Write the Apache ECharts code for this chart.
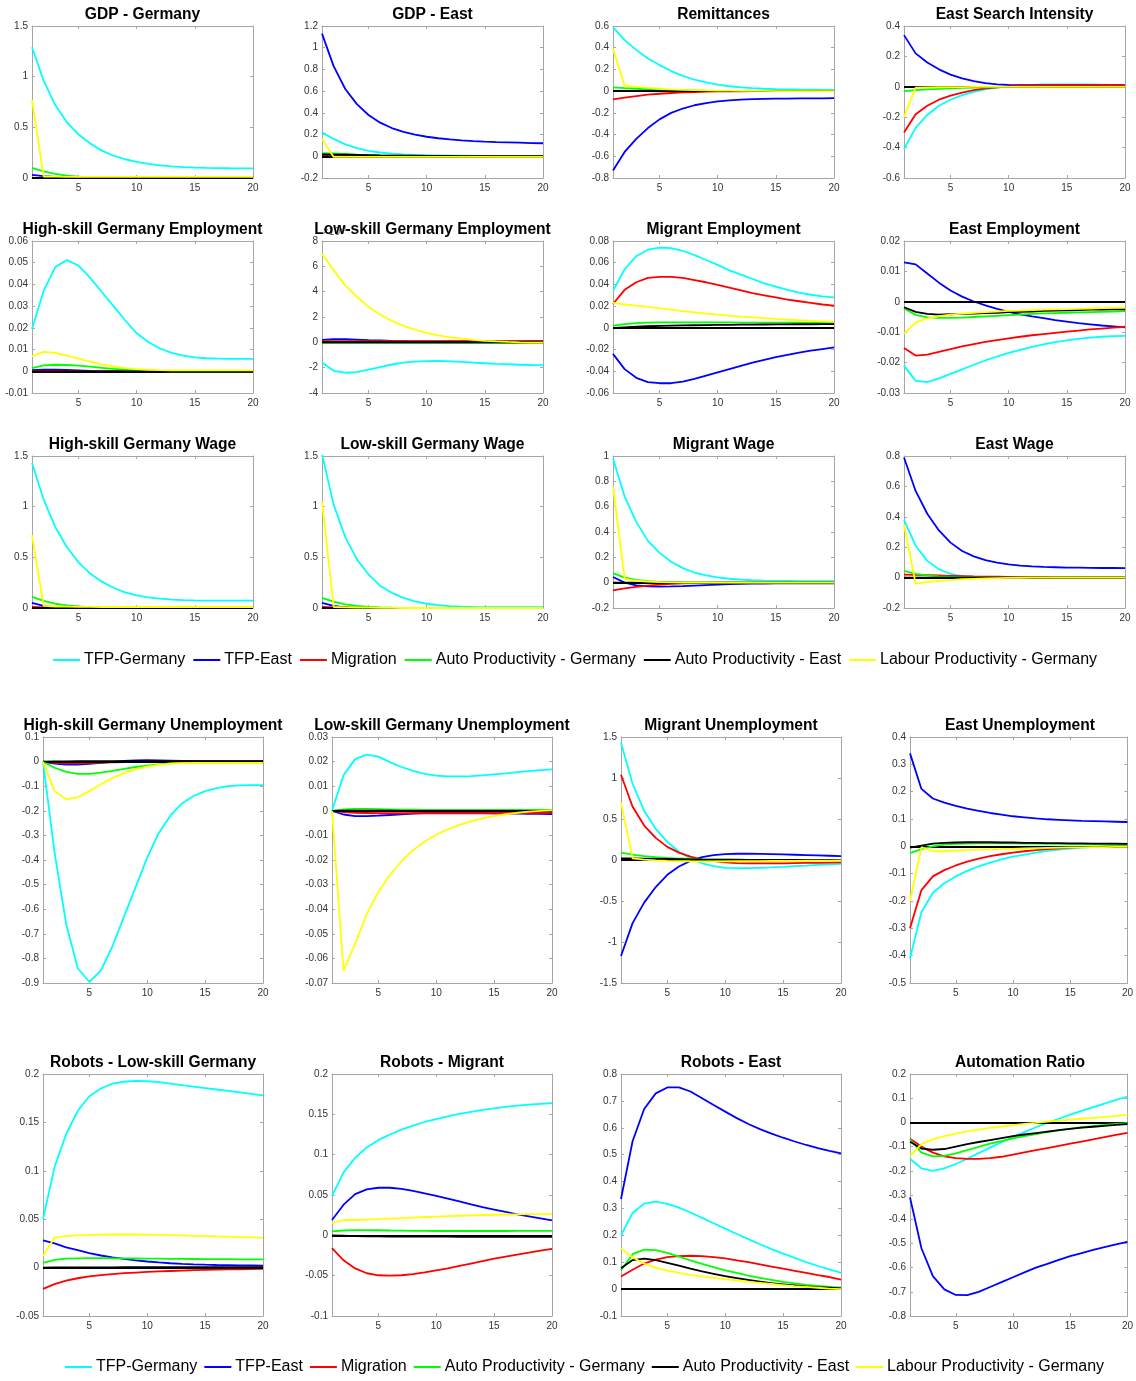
<!DOCTYPE html>
<html>
<head>
<meta charset="utf-8">
<script src="https://cdn.jsdelivr.net/npm/echarts@6/dist/echarts.min.js"></script>
<style>
  html, body { margin: 0; padding: 0; background: #fff; }
  #chart { width: 1136px; height: 1381px; }
</style>
</head>
<body>
<div id="chart"></div>
<script>
// Horizon (quarters after the shock)
const periods = ['1','2','3','4','5','6','7','8','9','10','11','12','13','14','15','16','17','18','19','20'];

// Shocks, in plotting order
const shockNames = ['TFP-Germany', 'TFP-East', 'Migration', 'Auto Productivity - Germany', 'Auto Productivity - East', 'Labour Productivity - Germany'];
const shockColors = ['#00FFFF', '#0000FF', '#FF0000', '#00FF00', '#000000', '#FFFF00'];

// Impulse responses: each panel holds one row per shock (same order as shockNames)
const gdpGermany = [
  [1.29,0.96,0.72,0.55,0.43,0.34,0.27,0.22,0.185,0.16,0.14,0.125,0.115,0.108,0.103,0.1,0.098,0.096,0.095,0.094],
  [0.03,0.018,0.01,0.005,0.002,0.001,0,0,0,0,0,0,0,0,0,0,0,0,0,0],
  [-0.004,-0.003,-0.002,-0.002,-0.001,-0.001,0,0,0,0,0,0,0,0,0,0,0,0,0,0],
  [0.1,0.065,0.04,0.024,0.014,0.008,0.005,0.003,0.002,0.001,0,0,0,0,0,0,0,0,0,0],
  [0,0,0,0,0,0,0,0,0,0,0,0,0,0,0,0,0,0,0,0],
  [0.77,0.015,0.013,0.012,0.012,0.011,0.011,0.011,0.011,0.011,0.011,0.011,0.011,0.011,0.011,0.011,0.011,0.011,0.011,0.011]
];
const gdpEast = [
  [0.22,0.16,0.11,0.075,0.05,0.035,0.025,0.018,0.013,0.01,0.008,0.006,0.005,0.004,0.004,0.003,0.003,0.003,0.003,0.003],
  [1.13,0.83,0.62,0.48,0.38,0.31,0.26,0.225,0.2,0.18,0.166,0.155,0.147,0.14,0.135,0.131,0.128,0.125,0.122,0.12],
  [0.005,0.004,0.003,0.002,0.002,0.001,0.001,0,0,0,0,0,0,0,0,0,0,0,0,0],
  [0.03,0.026,0.021,0.016,0.012,0.009,0.007,0.005,0.004,0.003,0.002,0.002,0.001,0.001,0.001,0,0,0,0,0],
  [0.018,0.016,0.014,0.012,0.01,0.008,0.007,0.006,0.005,0.004,0.003,0.003,0.002,0.002,0.002,0.001,0.001,0.001,0.001,0.001],
  [0.16,-0.006,-0.006,-0.006,-0.006,-0.005,-0.005,-0.005,-0.005,-0.005,-0.005,-0.005,-0.005,-0.005,-0.005,-0.005,-0.005,-0.005,-0.005,-0.005]
];
const remittances = [
  [0.59,0.47,0.38,0.3,0.24,0.185,0.14,0.105,0.08,0.06,0.045,0.035,0.027,0.022,0.018,0.016,0.014,0.013,0.012,0.012],
  [-0.73,-0.56,-0.44,-0.34,-0.26,-0.2,-0.16,-0.13,-0.11,-0.095,-0.085,-0.078,-0.074,-0.071,-0.069,-0.068,-0.067,-0.066,-0.066,-0.065],
  [-0.075,-0.06,-0.045,-0.033,-0.024,-0.017,-0.012,-0.008,-0.005,-0.003,-0.002,-0.001,0,0,0,0,0,0,0,0],
  [0.035,0.028,0.022,0.017,0.013,0.01,0.008,0.006,0.004,0.003,0.002,0.002,0.001,0.001,0.001,0,0,0,0,0],
  [0.003,0.002,0.002,0.001,0.001,0,0,0,0,0,0,0,0,0,0,0,0,0,0,0],
  [0.39,0.05,0.04,0.03,0.022,0.016,0.012,0.009,0.007,0.005,0.004,0.003,0.002,0.002,0.001,0.001,0.001,0,0,0]
];
const eastSearch = [
  [-0.41,-0.27,-0.185,-0.125,-0.085,-0.055,-0.033,-0.017,-0.005,0.005,0.01,0.013,0.015,0.016,0.016,0.016,0.015,0.014,0.013,0.012],
  [0.34,0.22,0.16,0.115,0.08,0.055,0.037,0.024,0.016,0.012,0.011,0.011,0.011,0.011,0.011,0.011,0.011,0.011,0.011,0.011],
  [-0.3,-0.18,-0.125,-0.085,-0.058,-0.038,-0.022,-0.011,-0.003,0.003,0.007,0.009,0.01,0.011,0.011,0.011,0.011,0.011,0.011,0.011],
  [-0.028,-0.022,-0.017,-0.013,-0.01,-0.007,-0.005,-0.003,-0.002,-0.001,0,0,0,0,0,0,0,0,0,0],
  [0,0,0,0,0,0,0,0,0,0,0,0,0,0,0,0,0,0,0,0],
  [-0.2,-0.005,-0.004,-0.003,-0.002,-0.002,-0.001,-0.001,0,0,0,0,0,0,0,0,0,0,0,0]
];
const hsEmployment = [
  [0.0195,0.037,0.048,0.0512,0.0487,0.043,0.0365,0.03,0.0235,0.0175,0.0135,0.0105,0.0085,0.0072,0.0064,0.006,0.0058,0.0057,0.0057,0.0057],
  [0.0005,0.0008,0.0008,0.0006,0.0004,0.0002,0,-0.0001,-0.0001,-0.0001,0,0,0,0,0,0,0,0,0,0],
  [0.0002,0.0002,0.0002,0.0001,0.0001,0,0,0,0,0,0,0,0,0,0,0,0,0,0,0],
  [0.0015,0.0027,0.003,0.0029,0.0026,0.0021,0.0016,0.0011,0.0007,0.0004,0.0002,0.0001,0,0,0,0,0,0,0,0],
  [0,0,0,0,0,0,0,0,0,0,0,0,0,0,0,0,0,0,0,0],
  [0.007,0.0089,0.0085,0.0072,0.0058,0.0044,0.0032,0.0022,0.0015,0.001,0.0007,0.0005,0.0004,0.0004,0.0004,0.0004,0.0004,0.0004,0.0004,0.0004]
];
const lsEmployment = [
  [-0.0016,-0.00225,-0.0024,-0.00235,-0.00215,-0.00195,-0.00175,-0.0016,-0.00152,-0.00148,-0.00147,-0.0015,-0.00155,-0.0016,-0.00165,-0.0017,-0.00173,-0.00177,-0.00179,-0.0018],
  [0.0002,0.00025,0.00025,0.00022,0.00018,0.00015,0.00012,0.0001,0.00008,0.00007,0.00007,0.00007,0.00007,0.00007,0.00007,0.00008,0.00008,0.00008,0.00009,0.00009],
  [0.0001,0.0001,0.0001,0.0001,0.0001,0.0001,0.0001,0.0001,0.0001,0.0001,0.0001,0.0001,0.0001,0.0001,0.0001,0.0001,0.0001,0.0001,0.0001,0.0001],
  [-0.00005,-0.00005,-0.00005,-0.00005,-0.00005,-0.00005,-0.00005,-0.00005,-0.00005,-0.00005,-0.00005,-0.00005,-0.00005,-0.00005,-0.00005,-0.00005,-0.00005,-0.00005,-0.00005,-0.00005],
  [0.00002,0.00002,0.00002,0.00002,0.00002,0.00002,0.00002,0.00002,0.00002,0.00002,0.00002,0.00002,0.00002,0.00002,0.00002,0.00002,0.00002,0.00002,0.00002,0.00002],
  [0.007,0.0057,0.0045,0.0036,0.0028,0.0022,0.0017,0.0013,0.001,0.00075,0.00055,0.0004,0.0003,0.0002,0.00012,0.00007,0.00003,0,-0.00002,-0.00003]
];
const migrantEmployment = [
  [0.034,0.054,0.066,0.072,0.074,0.0735,0.071,0.067,0.0625,0.058,0.053,0.049,0.045,0.041,0.038,0.035,0.0325,0.0305,0.029,0.028],
  [-0.024,-0.038,-0.046,-0.05,-0.051,-0.051,-0.0495,-0.047,-0.044,-0.041,-0.038,-0.035,-0.032,-0.0295,-0.027,-0.0248,-0.0228,-0.021,-0.0195,-0.018],
  [0.022,0.035,0.042,0.046,0.047,0.047,0.046,0.044,0.042,0.0395,0.037,0.0345,0.032,0.03,0.028,0.026,0.0245,0.023,0.0215,0.0205],
  [0.002,0.0035,0.0043,0.0048,0.005,0.0051,0.0051,0.0051,0.005,0.005,0.005,0.0049,0.0049,0.0048,0.0048,0.0047,0.0047,0.0046,0.0046,0.0045],
  [0,0.0005,0.001,0.0015,0.0018,0.002,0.0022,0.0024,0.0026,0.0027,0.0028,0.003,0.003,0.0031,0.0032,0.0032,0.0033,0.0033,0.0034,0.0034],
  [0.023,0.0215,0.0205,0.0193,0.018,0.0167,0.0155,0.0143,0.0132,0.0122,0.0113,0.0104,0.0096,0.0089,0.0082,0.0076,0.007,0.0065,0.006,0.0055]
];
const eastEmployment = [
  [-0.021,-0.026,-0.0264,-0.0252,-0.0237,-0.0222,-0.0207,-0.0193,-0.018,-0.0168,-0.0158,-0.0148,-0.014,-0.0133,-0.0127,-0.0122,-0.0118,-0.0115,-0.0113,-0.0112],
  [0.013,0.0123,0.0093,0.0063,0.0037,0.0017,0.0001,-0.0012,-0.0023,-0.0033,-0.0041,-0.0048,-0.0054,-0.006,-0.0065,-0.007,-0.0074,-0.0078,-0.0081,-0.0084],
  [-0.0152,-0.0177,-0.0174,-0.0165,-0.0156,-0.0147,-0.0139,-0.0132,-0.0126,-0.012,-0.0115,-0.011,-0.0106,-0.0102,-0.0098,-0.0095,-0.0091,-0.0088,-0.0085,-0.0082],
  [-0.0022,-0.0043,-0.0051,-0.0053,-0.0053,-0.0052,-0.005,-0.0048,-0.0046,-0.0044,-0.0042,-0.004,-0.0038,-0.0037,-0.0036,-0.0035,-0.0034,-0.0033,-0.0032,-0.0031],
  [-0.0018,-0.0033,-0.004,-0.0042,-0.0041,-0.004,-0.0039,-0.0037,-0.0036,-0.0034,-0.0033,-0.0032,-0.003,-0.0029,-0.0028,-0.0027,-0.0026,-0.0026,-0.0025,-0.0025],
  [-0.0105,-0.0068,-0.0055,-0.0047,-0.0042,-0.0039,-0.0036,-0.0034,-0.0032,-0.003,-0.0029,-0.0027,-0.0026,-0.0025,-0.0024,-0.0023,-0.0022,-0.0021,-0.002,-0.0019]
];
const hsWage = [
  [1.43,1.07,0.8,0.6,0.45,0.34,0.26,0.2,0.155,0.125,0.105,0.092,0.083,0.078,0.075,0.073,0.072,0.072,0.072,0.072],
  [0.05,0.02,0.005,-0.002,-0.005,-0.005,-0.004,-0.003,-0.002,-0.001,0,0,0,0,0,0,0,0,0,0],
  [0.01,0.007,0.005,0.003,0.002,0.001,0,0,0,0,0,0,0,0,0,0,0,0,0,0],
  [0.11,0.07,0.042,0.025,0.015,0.009,0.005,0.003,0.002,0.001,0,0,0,0,0,0,0,0,0,0],
  [0,0,0,0,0,0,0,0,0,0,0,0,0,0,0,0,0,0,0,0],
  [0.72,0.02,0.015,0.013,0.012,0.011,0.01,0.01,0.01,0.01,0.01,0.01,0.01,0.01,0.01,0.01,0.01,0.01,0.01,0.01]
];
const lsWage = [
  [1.52,1.02,0.7,0.48,0.33,0.22,0.15,0.1,0.065,0.042,0.028,0.019,0.014,0.011,0.009,0.008,0.008,0.008,0.008,0.008],
  [0.05,0.02,0.005,-0.003,-0.005,-0.005,-0.004,-0.003,-0.002,-0.001,0,0,0,0,0,0,0,0,0,0],
  [0.01,0.007,0.005,0.003,0.002,0.001,0,0,0,0,0,0,0,0,0,0,0,0,0,0],
  [0.1,0.062,0.036,0.021,0.012,0.007,0.004,0.002,0.001,0,0,0,0,0,0,0,0,0,0,0],
  [0,0,0,0,0,0,0,0,0,0,0,0,0,0,0,0,0,0,0,0],
  [1.05,0.01,0.006,0.004,0.003,0.002,0.001,0,0,0,0,0,0,0,0,0,0,0,0,0]
];
const migrantWage = [
  [0.98,0.68,0.48,0.33,0.235,0.165,0.115,0.08,0.058,0.042,0.031,0.024,0.019,0.016,0.014,0.013,0.012,0.012,0.012,0.012],
  [0.045,0,-0.022,-0.03,-0.032,-0.03,-0.027,-0.023,-0.019,-0.015,-0.012,-0.01,-0.008,-0.007,-0.006,-0.006,-0.005,-0.005,-0.005,-0.005],
  [-0.06,-0.045,-0.033,-0.023,-0.015,-0.01,-0.006,-0.003,-0.001,0,0.001,0.001,0.001,0.001,0.001,0.001,0.001,0.001,0.001,0.001],
  [0.075,0.04,0.022,0.012,0.007,0.004,0.002,0.001,0,0,0,0,0,0,0,0,0,0,0,0],
  [0,0,0,0,0,0,0,0,0,0,0,0,0,0,0,0,0,0,0,0],
  [0.76,0.03,0.015,0.008,0.004,0.002,0.001,0,0,0,0,0,0,0,0,0,0,0,0,0]
];
const eastWage = [
  [0.38,0.21,0.11,0.055,0.025,0.01,0.004,0.001,0,0,0,0,0,0,0,0,0,0,0,0],
  [0.79,0.57,0.42,0.31,0.23,0.175,0.14,0.115,0.098,0.087,0.079,0.074,0.07,0.068,0.066,0.065,0.064,0.063,0.063,0.062],
  [0.02,0.018,0.016,0.014,0.012,0.01,0.008,0.007,0.006,0.005,0.004,0.003,0.003,0.002,0.002,0.002,0.001,0.001,0.001,0.001],
  [0.045,0.025,0.014,0.008,0.004,0.002,0.001,0,0,0,0,0,0,0,0,0,0,0,0,0],
  [0,0,0,0,0,0,0,0,0,0,0,0,0,0,0,0,0,0,0,0],
  [0.35,-0.04,-0.03,-0.022,-0.016,-0.011,-0.008,-0.005,-0.003,-0.002,-0.001,0,0,0,0,0,0,0,0,0]
];
const hsUnemployment = [
  [0,-0.37,-0.66,-0.84,-0.895,-0.85,-0.75,-0.63,-0.51,-0.39,-0.29,-0.22,-0.17,-0.14,-0.12,-0.108,-0.1,-0.097,-0.096,-0.096],
  [0,-0.008,-0.012,-0.012,-0.009,-0.005,-0.001,0.003,0.005,0.006,0.005,0.004,0.003,0.002,0.001,0.001,0,0,0,0],
  [0,-0.005,-0.007,-0.007,-0.006,-0.004,-0.003,-0.002,-0.001,0,0.001,0.002,0.002,0.002,0.002,0.002,0.002,0.002,0.002,0.002],
  [0,-0.025,-0.042,-0.05,-0.05,-0.045,-0.038,-0.03,-0.022,-0.016,-0.011,-0.007,-0.005,-0.004,-0.004,-0.004,-0.004,-0.004,-0.004,-0.004],
  [0,0.001,0.001,0.002,0.002,0.002,0.002,0.002,0.002,0.002,0.002,0.002,0.002,0.002,0.002,0.002,0.002,0.002,0.002,0.002],
  [0,-0.12,-0.153,-0.145,-0.12,-0.092,-0.067,-0.047,-0.031,-0.02,-0.013,-0.008,-0.006,-0.005,-0.005,-0.005,-0.005,-0.005,-0.005,-0.005]
];
const lsUnemployment = [
  [0,0.0145,0.021,0.0228,0.022,0.0198,0.0178,0.0162,0.015,0.0143,0.014,0.014,0.0141,0.0144,0.0148,0.0152,0.0157,0.0161,0.0165,0.0168],
  [0,-0.0015,-0.0022,-0.0022,-0.002,-0.0017,-0.0014,-0.0011,-0.0009,-0.0008,-0.0008,-0.0008,-0.0008,-0.0009,-0.001,-0.001,-0.0011,-0.0012,-0.0012,-0.0013],
  [0,-0.0005,-0.0008,-0.0009,-0.001,-0.001,-0.001,-0.001,-0.001,-0.001,-0.001,-0.001,-0.001,-0.001,-0.001,-0.001,-0.0009,-0.0009,-0.0008,-0.0008],
  [0,0.0006,0.0008,0.0008,0.0007,0.0006,0.0005,0.0005,0.0004,0.0004,0.0004,0.0004,0.0004,0.0004,0.0004,0.0004,0.0004,0.0004,0.0004,0.0004],
  [0,0.0001,0.0001,0.0001,0.0001,0.0001,0,0,0,0,0,0,0,0,0,0,0,0,0,0],
  [0,-0.065,-0.054,-0.042,-0.033,-0.026,-0.0205,-0.016,-0.0125,-0.0097,-0.0075,-0.0057,-0.0043,-0.0031,-0.0022,-0.0014,-0.0008,-0.0003,0,0.0002]
];
const migrantUnemployment = [
  [1.43,0.93,0.6,0.38,0.22,0.1,0.02,-0.04,-0.075,-0.095,-0.1,-0.1,-0.095,-0.09,-0.083,-0.075,-0.068,-0.06,-0.053,-0.047],
  [-1.17,-0.77,-0.52,-0.33,-0.18,-0.08,-0.01,0.035,0.06,0.072,0.076,0.077,0.075,0.072,0.068,0.064,0.06,0.056,0.052,0.048],
  [1.04,0.65,0.42,0.27,0.16,0.09,0.04,0.005,-0.015,-0.03,-0.037,-0.04,-0.042,-0.042,-0.04,-0.038,-0.036,-0.034,-0.032,-0.03],
  [0.09,0.065,0.048,0.035,0.025,0.018,0.012,0.008,0.005,0.003,0.001,0,-0.001,-0.001,-0.001,-0.001,-0.001,-0.001,-0.001,-0.001],
  [0.02,0.018,0.016,0.014,0.012,0.01,0.008,0.006,0.005,0.004,0.003,0.002,0.002,0.001,0.001,0.001,0.001,0.001,0.001,0.001],
  [0.7,0.02,0.005,-0.005,-0.01,-0.013,-0.015,-0.016,-0.016,-0.016,-0.015,-0.014,-0.013,-0.012,-0.011,-0.01,-0.009,-0.008,-0.007,-0.006]
];
const eastUnemployment = [
  [-0.41,-0.24,-0.17,-0.135,-0.11,-0.09,-0.073,-0.06,-0.048,-0.038,-0.03,-0.023,-0.017,-0.012,-0.008,-0.005,-0.003,-0.001,0,0.001],
  [0.34,0.21,0.175,0.16,0.148,0.138,0.13,0.122,0.116,0.11,0.106,0.102,0.099,0.097,0.095,0.093,0.092,0.091,0.09,0.089],
  [-0.3,-0.16,-0.11,-0.087,-0.07,-0.056,-0.045,-0.036,-0.029,-0.023,-0.018,-0.014,-0.01,-0.007,-0.005,-0.003,-0.002,-0.001,0,0],
  [-0.025,-0.01,0,0.006,0.009,0.01,0.011,0.011,0.011,0.011,0.01,0.01,0.009,0.009,0.008,0.008,0.007,0.007,0.006,0.006],
  [-0.005,0.003,0.01,0.013,0.014,0.015,0.015,0.015,0.014,0.014,0.013,0.013,0.012,0.012,0.011,0.011,0.01,0.01,0.01,0.009],
  [-0.2,-0.003,-0.018,-0.018,-0.016,-0.014,-0.012,-0.011,-0.01,-0.009,-0.008,-0.007,-0.006,-0.005,-0.004,-0.004,-0.003,-0.003,-0.002,-0.002]
];
const robotsLowSkill = [
  [0.05,0.104,0.138,0.162,0.177,0.185,0.19,0.192,0.193,0.1925,0.1915,0.19,0.1885,0.187,0.1855,0.184,0.1825,0.181,0.1795,0.178],
  [0.028,0.025,0.021,0.018,0.015,0.0125,0.0105,0.009,0.0075,0.0063,0.0053,0.0045,0.0039,0.0034,0.003,0.0027,0.0025,0.0023,0.0022,0.0021],
  [-0.022,-0.017,-0.0135,-0.011,-0.009,-0.0077,-0.0067,-0.0058,-0.0051,-0.0045,-0.004,-0.0035,-0.0031,-0.0027,-0.0024,-0.0021,-0.0019,-0.0017,-0.0015,-0.0013],
  [0.005,0.008,0.0092,0.0096,0.0097,0.0097,0.0096,0.0095,0.0094,0.0093,0.0092,0.0091,0.009,0.0089,0.0088,0.0087,0.0087,0.0086,0.0085,0.0085],
  [0,0.0001,0.0002,0.0002,0.0003,0.0003,0.0003,0.0004,0.0004,0.0004,0.0004,0.0004,0.0005,0.0005,0.0005,0.0005,0.0005,0.0005,0.0005,0.0005],
  [0.012,0.031,0.0325,0.0333,0.0338,0.034,0.0342,0.0343,0.0342,0.034,0.0338,0.0335,0.0332,0.0328,0.0325,0.0322,0.0318,0.0315,0.0312,0.031]
];
const robotsMigrant = [
  [0.049,0.078,0.096,0.109,0.118,0.125,0.131,0.136,0.1405,0.144,0.1475,0.1505,0.153,0.1555,0.1575,0.1592,0.1607,0.162,0.163,0.164],
  [0.019,0.038,0.051,0.057,0.059,0.059,0.0575,0.055,0.052,0.049,0.0455,0.042,0.0385,0.035,0.032,0.029,0.026,0.0235,0.021,0.0185],
  [-0.016,-0.031,-0.041,-0.047,-0.0495,-0.05,-0.0495,-0.048,-0.046,-0.0435,-0.041,-0.038,-0.035,-0.032,-0.029,-0.0265,-0.024,-0.0215,-0.019,-0.0168],
  [0.005,0.006,0.0065,0.0065,0.0063,0.006,0.0058,0.0056,0.0055,0.0054,0.0054,0.0054,0.0054,0.0054,0.0054,0.0054,0.0055,0.0055,0.0055,0.0055],
  [0,-0.0005,-0.001,-0.0012,-0.0014,-0.0015,-0.0016,-0.0016,-0.0017,-0.0017,-0.0017,-0.0018,-0.0018,-0.0018,-0.0018,-0.0018,-0.0018,-0.0018,-0.0018,-0.0018],
  [0.015,0.019,0.019,0.0195,0.02,0.0207,0.0213,0.022,0.0227,0.0233,0.0238,0.0243,0.0248,0.0252,0.0255,0.0258,0.026,0.0262,0.0264,0.0265]
];
const robotsEast = [
  [0.2,0.283,0.318,0.325,0.317,0.303,0.285,0.265,0.245,0.225,0.205,0.186,0.167,0.149,0.132,0.116,0.1,0.086,0.073,0.06],
  [0.335,0.55,0.67,0.728,0.75,0.75,0.735,0.71,0.685,0.66,0.636,0.614,0.595,0.578,0.563,0.549,0.536,0.524,0.514,0.505],
  [0.047,0.072,0.095,0.11,0.119,0.123,0.124,0.123,0.119,0.114,0.107,0.1,0.092,0.084,0.076,0.068,0.06,0.052,0.045,0.035],
  [0.07,0.13,0.147,0.145,0.135,0.121,0.107,0.094,0.082,0.07,0.06,0.05,0.042,0.034,0.027,0.021,0.016,0.012,0.008,0.005],
  [0.078,0.108,0.113,0.108,0.098,0.087,0.076,0.066,0.057,0.048,0.041,0.034,0.028,0.022,0.018,0.014,0.01,0.007,0.005,0.003],
  [0.152,0.118,0.095,0.08,0.069,0.06,0.053,0.047,0.042,0.037,0.032,0.027,0.023,0.019,0.015,0.011,0.008,0.005,0.002,0]
];
const automationRatio = [
  [-0.15,-0.19,-0.2,-0.19,-0.172,-0.15,-0.127,-0.104,-0.082,-0.06,-0.04,-0.02,-0.002,0.015,0.032,0.048,0.063,0.078,0.093,0.107],
  [-0.31,-0.52,-0.635,-0.69,-0.713,-0.714,-0.7,-0.68,-0.66,-0.64,-0.62,-0.6,-0.585,-0.568,-0.553,-0.54,-0.527,-0.515,-0.504,-0.494],
  [-0.068,-0.1,-0.125,-0.14,-0.148,-0.151,-0.151,-0.148,-0.142,-0.133,-0.124,-0.115,-0.106,-0.097,-0.088,-0.079,-0.07,-0.061,-0.052,-0.043],
  [-0.07,-0.125,-0.14,-0.138,-0.128,-0.115,-0.101,-0.088,-0.077,-0.066,-0.057,-0.048,-0.04,-0.033,-0.026,-0.02,-0.015,-0.01,-0.006,-0.003],
  [-0.08,-0.108,-0.113,-0.11,-0.1,-0.09,-0.081,-0.073,-0.065,-0.057,-0.05,-0.044,-0.038,-0.032,-0.027,-0.022,-0.018,-0.014,-0.01,-0.007],
  [-0.14,-0.09,-0.07,-0.057,-0.046,-0.037,-0.03,-0.023,-0.017,-0.011,-0.006,-0.002,0.003,0.007,0.011,0.015,0.019,0.023,0.027,0.032]
];

// Panel titles, data and y-axis ticks (min, max, step)
const panelTitles = ['GDP - Germany', 'GDP - East', 'Remittances', 'East Search Intensity',
  'High-skill Germany Employment', 'Low-skill Germany Employment', 'Migrant Employment', 'East Employment',
  'High-skill Germany Wage', 'Low-skill Germany Wage', 'Migrant Wage', 'East Wage',
  'High-skill Germany Unemployment', 'Low-skill Germany Unemployment', 'Migrant Unemployment', 'East Unemployment',
  'Robots - Low-skill Germany', 'Robots - Migrant', 'Robots - East', 'Automation Ratio'];
const panelData = [gdpGermany, gdpEast, remittances, eastSearch,
  hsEmployment, lsEmployment, migrantEmployment, eastEmployment,
  hsWage, lsWage, migrantWage, eastWage,
  hsUnemployment, lsUnemployment, migrantUnemployment, eastUnemployment,
  robotsLowSkill, robotsMigrant, robotsEast, automationRatio];
const yMin  = [0, -0.2, -0.8, -0.6,  -0.01, -0.004, -0.06, -0.03,  0, 0, -0.2, -0.2,  -0.9, -0.07, -1.5, -0.5,  -0.05, -0.1, -0.1, -0.8];
const yMax  = [1.5, 1.2, 0.6, 0.4,   0.06, 0.008, 0.08, 0.02,     1.5, 1.5, 1, 0.8,   0.1, 0.03, 1.5, 0.4,     0.2, 0.2, 0.8, 0.2];
const yStep = [0.5, 0.2, 0.2, 0.2,   0.01, 0.002, 0.02, 0.01,     0.5, 0.5, 0.2, 0.2, 0.1, 0.01, 0.5, 0.1,     0.05, 0.05, 0.1, 0.1];

// Page layout (pixels)
const topCols = [32, 322, 613, 904], topWidth = 221;
const topRows = [26, 241, 456], topHeight = 152;
const botCols = [43, 332, 621, 910], botWidth = 220;
const botRows = [737, 1074], botHeights = [246, 242];

const FONT = '"Liberation Sans", Arial, Helvetica, sans-serif';
const AXIS_COLOR = '#a6a6a6';
const LABEL_COLOR = '#333';
const LINE_WIDTH = 1.8;

function panelBox(i) {
  if (i < 12) {
    const r = Math.floor(i / 4), c = i % 4;
    return { left: topCols[c], top: topRows[r], width: topWidth, height: topHeight };
  }
  const r = Math.floor((i - 12) / 4), c = (i - 12) % 4;
  return { left: botCols[c], top: botRows[r], width: botWidth, height: botHeights[r] };
}

const everyFifth = (idx, v) => Number(v) % 5 === 0;

const grids = [], xAxes = [], yAxes = [], series = [], graphics = [];

panelData.forEach((rows, i) => {
  const box = panelBox(i);
  grids.push({ left: box.left, top: box.top, width: box.width, height: box.height, containLabel: false });

  const xCommon = {
    type: 'category', gridIndex: i, data: periods, boundaryGap: false,
    axisLine: { show: true, onZero: false, lineStyle: { color: AXIS_COLOR, width: 1 } },
    axisTick: { show: true, inside: true, length: 3, interval: everyFifth, lineStyle: { color: AXIS_COLOR } },
    splitLine: { show: false }
  };
  xAxes.push(Object.assign({}, xCommon, {
    position: 'bottom',
    axisLabel: { show: true, interval: everyFifth, color: LABEL_COLOR, fontSize: 10, fontFamily: FONT, margin: 5 }
  }));
  xAxes.push(Object.assign({}, xCommon, { position: 'top', axisLabel: { show: false } }));

  const yCommon = {
    type: 'value', gridIndex: i, min: yMin[i], max: yMax[i], interval: yStep[i], scale: false,
    axisLine: { show: true, onZero: false, lineStyle: { color: AXIS_COLOR, width: 1 } },
    axisTick: { show: true, inside: true, length: 3, lineStyle: { color: AXIS_COLOR } },
    splitLine: { show: false }
  };
  const fmt = (i === 5) ? (v => String(Math.round(v * 1000))) : undefined;
  yAxes.push(Object.assign({}, yCommon, {
    position: 'left',
    axisLabel: { show: true, color: LABEL_COLOR, fontSize: 10, fontFamily: FONT, margin: 4, formatter: fmt,
      showMinLabel: true, showMaxLabel: true }
  }));
  yAxes.push(Object.assign({}, yCommon, { position: 'right', axisLabel: { show: false } }));

  rows.forEach((vals, k) => {
    const s = {
      type: 'line', name: shockNames[k],
      xAxisIndex: 2 * i, yAxisIndex: 2 * i,
      data: vals, symbol: 'none', showSymbol: false, clip: true,
      lineStyle: { color: shockColors[k], width: LINE_WIDTH },
      itemStyle: { color: shockColors[k] },
      emphasis: { disabled: true },
      z: 2 + k
    };
    if (k === 4) {
      // zero reference line of each panel
      s.markLine = {
        silent: true, symbol: 'none', animation: false,
        label: { show: false },
        lineStyle: { color: '#000', width: LINE_WIDTH, type: 'solid' },
        emphasis: { disabled: true },
        data: [{ yAxis: 0 }]
      };
    }
    series.push(s);
  });

  // panel title
  graphics.push({
    type: 'text', z: 100,
    x: box.left + box.width / 2, y: box.top - 11,
    style: { text: panelTitles[i], fill: '#000', font: 'bold 15.6px ' + FONT, textAlign: 'center', textVerticalAlign: 'middle' }
  });
});

// axis multiplier of the low-skill employment panel
const ls = panelBox(5);
graphics.unshift({
  type: 'text', z: 50,
  x: ls.left + 1, y: ls.top - 2,
  style: {
    text: '×10{e|-3}', textVerticalAlign: 'bottom', textAlign: 'left',
    fill: '#555', font: '10px ' + FONT,
    rich: { e: { fontSize: 7, fill: '#555', verticalAlign: 'top', padding: [0, 0, 6, 0] } }
  }
});

const legendCommon = {
  data: shockNames, icon: 'rect', itemWidth: 27, itemHeight: 2, orient: 'horizontal', padding: 0,
  textStyle: { fontSize: 16, color: '#000', fontFamily: FONT, padding: [0, 0, 0, -1] },
  selectedMode: false
};

const chart = echarts.init(document.getElementById('chart'), null, { renderer: 'canvas' });
chart.setOption({
  animation: false,
  backgroundColor: '#fff',
  grid: grids,
  xAxis: xAxes,
  yAxis: yAxes,
  series: series,
  legend: [
    Object.assign({}, legendCommon, { left: 53, top: 652, itemGap: 8 }),
    Object.assign({}, legendCommon, { left: 65, top: 1359, itemGap: 7 })
  ],
  graphic: graphics
});
</script>
</body>
</html>
